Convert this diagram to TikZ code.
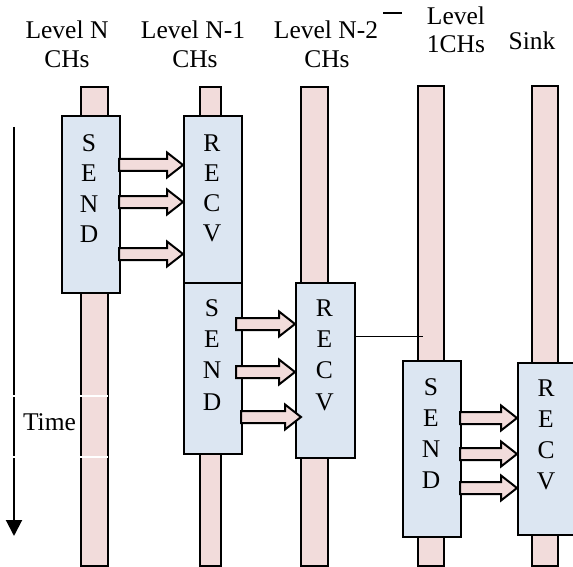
\documentclass[tikz,border=0pt]{standalone}
\usepackage{fontspec}
\setmainfont{Liberation Serif}
\usetikzlibrary{arrows.meta}
\definecolor{pinkf}{RGB}{242,220,219}
\definecolor{bluef}{RGB}{220,230,242}
\newcommand\blockarr[3]{\draw[barrow] (#1,#3-6) -- (#2-16,#3-6) -- (#2-16,#3-12.5) -- (#2,#3) -- (#2-16,#3+12.5) -- (#2-16,#3+6) -- (#1,#3+6) -- cycle;}
\begin{document}
\begin{tikzpicture}[x=1pt,y=-1pt,
  bar/.style={draw=black, line width=2pt, fill=pinkf, inner sep=0pt, anchor=north west},
  box/.style={draw=black, line width=2pt, fill=bluef, inner sep=0pt, anchor=north west},
  barrow/.style={draw=black, line width=2pt, fill=pinkf, line join=miter},
  lab/.style={font=\fontsize{25.5}{30}\selectfont, inner sep=0pt},
  ltr/.style={font=\fontsize{25.5}{30}\selectfont, inner sep=0pt}]
\useasboundingbox (0,0) rectangle (573,567);

% headers
\node[lab, anchor=base] (h1a) at (67,39) {Level N};
\node[lab, anchor=base] (h1b) at (67,68) {CHs};
\node[lab, anchor=base] (h2a) at (193,39) {Level N-1};
\node[lab, anchor=base] (h2b) at (195,68) {CHs};
\node[lab, anchor=base] (h3a) at (326,39) {Level N-2};
\node[lab, anchor=base] (h3b) at (327,68) {CHs};
\node[lab, anchor=base] (h4a) at (456,25) {Level};
\node[lab, anchor=base] (h4b) at (456,53) {1CHs};
\node[lab, anchor=base] (h5) at (532,50) {Sink};
\draw[line width=1.2pt] (383,13) -- (402,13);

% lifelines
\node[bar, minimum width=27pt, minimum height=479pt] (b1) at (80,86) {};
\node[bar, minimum width=21pt, minimum height=479pt] (b2) at (199,86) {};
\node[bar, minimum width=27pt, minimum height=479pt] (b3) at (300,86) {};
\node[bar, minimum width=26pt, minimum height=480pt] (b4) at (417,85) {};
\node[bar, minimum width=26pt, minimum height=480pt] (b5) at (531,85) {};

% activity boxes
\node[box, minimum width=58pt, minimum height=177pt] (snd1) at (61,115) {};
\node[box, minimum width=58pt, minimum height=167pt] (rcv1) at (183,115) {};
\node[box, minimum width=58pt, minimum height=171pt] (snd2) at (183,282) {};
\node[box, minimum width=59pt, minimum height=175pt] (rcv2) at (295,282) {};
\node[box, minimum width=58pt, minimum height=176pt] (snd3) at (402,360) {};
\node[box, minimum width=58pt, minimum height=172pt] (rcv3) at (517,362) {};

% letters
\foreach \l [count=\i] in {S,E,N,D} \node[ltr] (sa\i) at (89,{143+(\i-1)*30.5}) {\l};
\foreach \l [count=\i] in {R,E,C,V} \node[ltr] (ra\i) at (212,{143+(\i-1)*30}) {\l};
\foreach \l [count=\i] in {S,E,N,D} \node[ltr] (sb\i) at (212,{308+(\i-1)*31.3}) {\l};
\foreach \l [count=\i] in {R,E,C,V} \node[ltr] (rb\i) at (324.5,{308+(\i-1)*31.3}) {\l};
\foreach \l [count=\i] in {S,E,N,D} \node[ltr] (sc\i) at (431,{387+(\i-1)*31}) {\l};
\foreach \l [count=\i] in {R,E,C,V} \node[ltr] (rc\i) at (546,{388+(\i-1)*31}) {\l};

% message arrows
\blockarr{119}{183}{165}
\blockarr{119}{183}{202}
\blockarr{119}{183}{254}
\blockarr{236}{295}{324}
\blockarr{236}{295}{372}
\blockarr{241}{301}{417}
\blockarr{460}{517}{418}
\blockarr{460}{517}{454}
\blockarr{460}{517}{488}

% connector
\coordinate (c1) at (423,336);
\draw[line width=1pt] (rcv2.east |- c1) -- (c1);

% time axis
\coordinate (t0) at (14,127);
\coordinate (t1) at (14,536);
\draw[line width=2pt, -{Triangle[width=16pt,length=16pt]}] (t0) -- (t1);
\draw[white, line width=1.2pt] (12,396) -- (108,396) (12,457) -- (108,457);
\node[lab, anchor=base] (tm) at (49.5,430) {Time};
\end{tikzpicture}
\end{document}
